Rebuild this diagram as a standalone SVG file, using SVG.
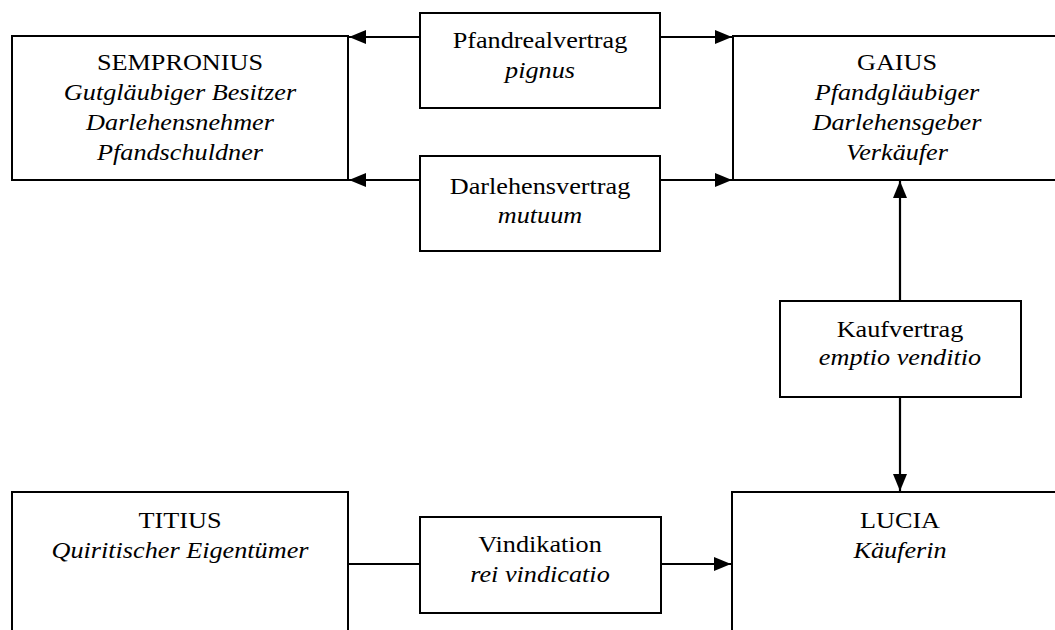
<svg xmlns="http://www.w3.org/2000/svg" width="1055" height="630" viewBox="0 0 1055 630">
<style>
.box{fill:#fff;stroke:#000;stroke-width:2}
.t{font-family:"Liberation Serif","Times New Roman",serif;font-size:23px;fill:#000;text-anchor:middle}
.i{font-style:italic}
.c{fill:none;stroke:#000;stroke-width:2.2}
</style>
<defs>
<marker id="ah" markerUnits="userSpaceOnUse" markerWidth="18" markerHeight="16" refX="17" refY="7" orient="auto">
<polygon points="0,0 17,7 0,14" fill="#000"/>
</marker>
</defs>
<rect width="1055" height="630" fill="#fff"/>
<g id="connectors">
<line class="c" x1="420" y1="37" x2="349" y2="37" marker-end="url(#ah)"/>
<line class="c" x1="660" y1="37" x2="732" y2="37" marker-end="url(#ah)"/>
<line class="c" x1="420" y1="180" x2="349" y2="180" marker-end="url(#ah)"/>
<line class="c" x1="660" y1="180" x2="732" y2="180" marker-end="url(#ah)"/>
<line class="c" x1="900" y1="301" x2="900" y2="181" marker-end="url(#ah)"/>
<line class="c" x1="900" y1="397" x2="900" y2="491" marker-end="url(#ah)"/>
<line class="c" x1="348" y1="564" x2="420" y2="564"/>
<line class="c" x1="661" y1="564" x2="731" y2="564" marker-end="url(#ah)"/>
</g>
<g id="sempronius">
<rect class="box" x="12" y="36" width="336" height="144"/>
<text class="t" transform="translate(180,70) scale(1.14,1)">SEMPRONIUS</text>
<text class="t i" transform="translate(180,100) scale(1.14,1)">Gutgläubiger Besitzer</text>
<text class="t i" transform="translate(180,130) scale(1.14,1)">Darlehensnehmer</text>
<text class="t i" transform="translate(180,160) scale(1.14,1)">Pfandschuldner</text>
</g>
<g id="pfandrealvertrag">
<rect class="box" x="420" y="13" width="240" height="95"/>
<text class="t" transform="translate(540,48) scale(1.14,1)">Pfandrealvertrag</text>
<text class="t i" transform="translate(540,78) scale(1.14,1)">pignus</text>
</g>
<g id="darlehensvertrag">
<rect class="box" x="420" y="156" width="240" height="95"/>
<text class="t" transform="translate(540,194) scale(1.14,1)">Darlehensvertrag</text>
<text class="t i" transform="translate(540,223) scale(1.14,1)">mutuum</text>
</g>
<g id="gaius">
<rect class="box" x="733" y="36" width="330" height="144"/>
<text class="t" transform="translate(897,70) scale(1.14,1)">GAIUS</text>
<text class="t i" transform="translate(897,100) scale(1.14,1)">Pfandgläubiger</text>
<text class="t i" transform="translate(897,130) scale(1.14,1)">Darlehensgeber</text>
<text class="t i" transform="translate(897,160) scale(1.14,1)">Verkäufer</text>
</g>
<g id="kaufvertrag">
<rect class="box" x="780" y="301" width="241" height="96"/>
<text class="t" transform="translate(900,337) scale(1.14,1)">Kaufvertrag</text>
<text class="t i" transform="translate(900,365) scale(1.14,1)">emptio venditio</text>
</g>
<g id="titius">
<rect class="box" x="12" y="492" width="336" height="160"/>
<text class="t" transform="translate(180,528) scale(1.14,1)">TITIUS</text>
<text class="t i" transform="translate(180,558) scale(1.14,1)">Quiritischer Eigentümer</text>
</g>
<g id="vindikation">
<rect class="box" x="420" y="517" width="241" height="96"/>
<text class="t" transform="translate(540,552) scale(1.14,1)">Vindikation</text>
<text class="t i" transform="translate(540,582) scale(1.14,1)">rei vindicatio</text>
</g>
<g id="lucia">
<rect class="box" x="732" y="492" width="336" height="160"/>
<text class="t" transform="translate(900,528) scale(1.14,1)">LUCIA</text>
<text class="t i" transform="translate(900,558) scale(1.14,1)">Käuferin</text>
</g>
</svg>
